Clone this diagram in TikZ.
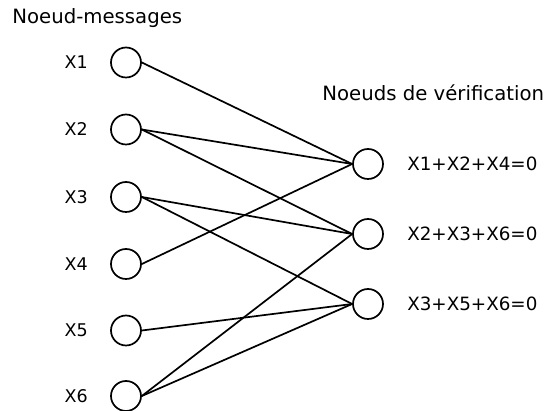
\documentclass[tikz,border=0pt]{standalone}
\usepackage{fontspec}
\setmainfont{DejaVu Sans}
\usetikzlibrary{positioning}
\begin{document}
\begin{tikzpicture}[x=0.5pt,y=0.5pt,
  bit/.style={draw=black,circle,line width=0.85pt,minimum size=15pt,inner sep=0pt},
  lbl/.style={inner sep=0pt,font=\fontsize{8.75}{10}\selectfont},
  eqn/.style={inner sep=0pt,font=\fontsize{9.15}{11}\selectfont},
  ttl/.style={inner sep=0pt,anchor=base west,font=\fontsize{9.85}{12}\selectfont},
  link/.style={draw=black,line width=0.85pt}]
\useasboundingbox (0,0) rectangle (548,-411);
% titles
\node [ttl] (ttlvar) at (12,-23.3) {Noeud-messages};
\node [ttl] (ttlchk) at (322,-101) {Noeuds de vérification};
% message nodes
\node [bit] (x1) at (126,-62.5) {};
\node [bit] (x2) at (126,-129.5) {};
\node [bit] (x3) at (126,-197) {};
\node [bit] (x4) at (126,-264) {};
\node [bit] (x5) at (126,-330.5) {};
\node [bit] (x6) at (126,-396) {};
\node [lbl,left=11pt of x1] (lx1) {X1};
\node [lbl,left=11pt of x2] (lx2) {X2};
\node [lbl,left=11pt of x3] (lx3) {X3};
\node [lbl,left=11pt of x4] (lx4) {X4};
\node [lbl,left=11pt of x5] (lx5) {X5};
\node [lbl,left=11pt of x6] (lx6) {X6};
% check nodes
\node [bit] (c1) at (368,-164) {};
\node [bit] (c2) at (368,-234) {};
\node [bit] (c3) at (368,-304) {};
\node [eqn,right=11.5pt of c1] (ec1) {X1+X2+X4=0};
\node [eqn,right=11.5pt of c2] (ec2) {X2+X3+X6=0};
\node [eqn,right=11.5pt of c3] (ec3) {X3+X5+X6=0};
% edges
\draw [link] (x1.east) -- (c1.west);
\draw [link] (x2.east) -- (c1.west);
\draw [link] (x4.east) -- (c1.west);
\draw [link] (x2.east) -- (c2.west);
\draw [link] (x3.east) -- (c2.west);
\draw [link] (x6.east) -- (c2.west);
\draw [link] (x3.east) -- (c3.west);
\draw [link] (x5.east) -- (c3.west);
\draw [link] (x6.east) -- (c3.west);
\end{tikzpicture}
\end{document}
